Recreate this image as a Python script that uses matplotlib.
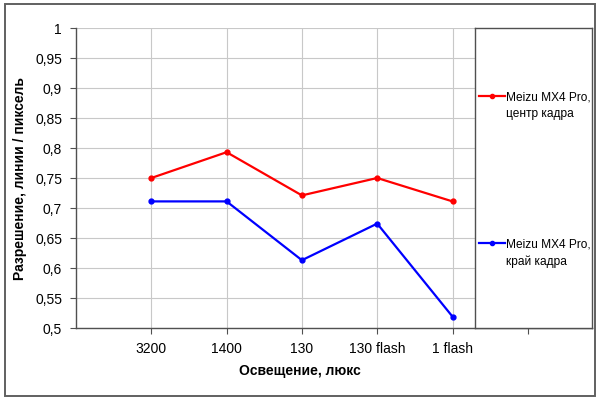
import matplotlib.pyplot as plt
from matplotlib.patches import Rectangle

# data
categories = ["3200", "1400", "130", "130 flash", "1 flash"]
center_vals = [0.750, 0.793, 0.721, 0.750, 0.711]
edge_vals = [0.711, 0.711, 0.613, 0.674, 0.519]
series_labels = ["Meizu MX4 Pro,\nцентр кадра", "Meizu MX4 Pro,\nкрай кадра"]
y_ticks = [0.5, 0.55, 0.6, 0.65, 0.7, 0.75, 0.8, 0.85, 0.9, 0.95, 1.0]

RED = "#ff0000"
BLUE = "#0000ff"
GRID = "#c8c8c8"
EDGE = "#505050"
W, H = 600.0, 400.0

plt.rcParams["font.family"] = ["Liberation Sans", "DejaVu Sans"]

fig = plt.figure(figsize=(6, 4), dpi=100)

# plot area in pixel coords
x0, x1, y_top, y_bot = 76, 592, 28, 328
ax = fig.add_axes([x0 / W, 1 - y_bot / H, (x1 - x0) / W, (y_bot - y_top) / H])

xs = list(range(len(categories)))
ax.plot(xs, center_vals, color=RED, lw=1.6, marker="o", ms=3.5, zorder=3)
ax.plot(xs, edge_vals, color=BLUE, lw=1.6, marker="o", ms=3.5, zorder=3)

step = 75.3
ax.set_xlim(-1, -1 + (x1 - x0) / step)
ax.set_ylim(0.5, 1.0)
ax.set_xticks(xs + [len(categories)])
ax.set_xticklabels(categories + [""], fontsize=10)
ax.set_yticks(y_ticks)
ax.set_yticklabels([f"{v:g}".replace(".", ",") for v in y_ticks], fontsize=10)
ax.grid(True, color=GRID, lw=0.8)
ax.set_axisbelow(True)
ax.tick_params(length=4, width=0.8, color=EDGE, pad=6)
for side in ["top", "right"]:
    ax.spines[side].set_visible(False)
for side in ["left", "bottom"]:
    ax.spines[side].set_color(EDGE)
    ax.spines[side].set_linewidth(1.0)

# legend box over the right part of the plot area
lx0 = 475
lax = fig.add_axes([lx0 / W, 1 - y_bot / H, (x1 - lx0) / W, (y_bot - y_top) / H])
lax.set_xlim(lx0, x1)
lax.set_ylim(y_bot, y_top)
lax.set_xticks([])
lax.set_yticks([])
for sp in lax.spines.values():
    sp.set_color(EDGE)
    sp.set_linewidth(1.0)
for color, label, yy in [(RED, series_labels[0], 96), (BLUE, series_labels[1], 243)]:
    lax.plot([479, 492, 505], [yy, yy, yy], color=color, lw=1.6, marker="o",
             ms=3, markevery=[1])
    lax.text(506, yy - 4, label, fontsize=8.6, va="top", ha="left",
             linespacing=1.45)

fig.text(20 / W, 1 - 178 / H, "Разрешение, линии / пиксель", rotation=90,
         fontsize=10, fontweight="bold", ha="center", va="center")
fig.text(300 / W, 1 - 371 / H, "Освещение, люкс", fontsize=10,
         fontweight="bold", ha="center", va="center")

# outer chart border
fig.patches.append(Rectangle((5 / W, 4 / H), 590 / W, 392 / H, fill=False,
                             edgecolor="#606060", lw=1.4,
                             transform=fig.transFigure))

fig.savefig("out.png", dpi=100)
